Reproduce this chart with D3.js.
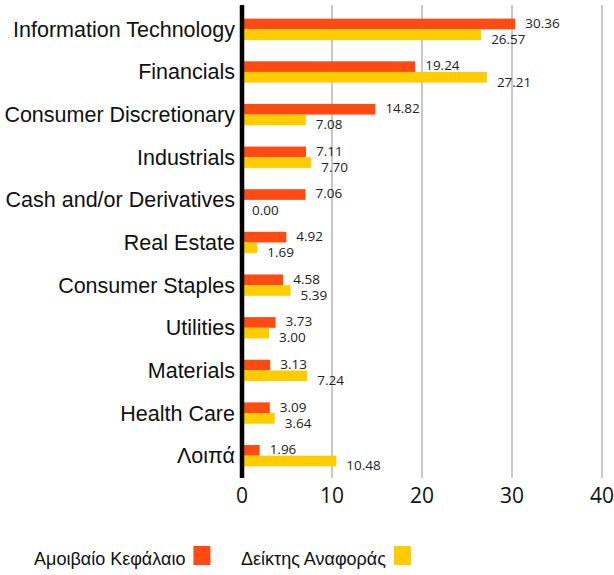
<!DOCTYPE html>
<html>
<head>
<meta charset="utf-8">
<script src="https://cdnjs.cloudflare.com/ajax/libs/d3/7.8.5/d3.min.js"></script>
<style>
  body { margin: 0; background: #fff; }
  .cat { font-family: "Liberation Sans", Arial, sans-serif; font-size: 21.5px; fill: #111; }
  .val { font-family: "Open Sans", sans-serif; font-size: 13.5px; fill: #222; }
  .tick-lbl { font-family: "Open Sans", sans-serif; font-size: 21px; fill: #111; }
  .leg { font-family: "Liberation Sans", Arial, sans-serif; font-size: 18px; fill: #111; }
</style>
</head>
<body>
<div class="chart"></div>
<script>
var categories = ["Information Technology", "Financials", "Consumer Discretionary", "Industrials",
  "Cash and/or Derivatives", "Real Estate", "Consumer Staples", "Utilities", "Materials",
  "Health Care", "Λοιπά"];
var fundValues = [30.36, 19.24, 14.82, 7.11, 7.06, 4.92, 4.58, 3.73, 3.13, 3.09, 1.96];
var indexValues = [26.57, 27.21, 7.08, 7.70, 0.00, 1.69, 5.39, 3.00, 7.24, 3.64, 10.48];
var seriesNames = ["Αμοιβαίο Κεφάλαιο", "Δείκτης Αναφοράς"];
var seriesColors = ["#ff4a14", "#ffcc00"];
var xTicks = [0, 10, 20, 30, 40];

var width = 614, height = 575;

var svg = d3.select(".chart").append("svg")
  .attr("width", width)
  .attr("height", height);

var xScale = d3.scaleLinear().domain([0, 40]).range([242, 602]);
var yScale = d3.scaleBand().domain(categories).range([8, 477])
  .paddingInner(0.5).paddingOuter(0.25);
var subScale = d3.scaleBand().domain(seriesNames).range([0, yScale.bandwidth()]);

var rows = categories.map(function (c, i) {
  return { cat: c, values: [
    { s: seriesNames[0], v: fundValues[i] },
    { s: seriesNames[1], v: indexValues[i] }
  ] };
});

// gridlines
svg.append("g").selectAll("line")
  .data(xTicks.filter(function (t) { return t > 0; }))
  .enter().append("line")
  .attr("x1", function (d) { return xScale(d); })
  .attr("x2", function (d) { return xScale(d); })
  .attr("y1", 5).attr("y2", 478)
  .attr("stroke", "#c8c8c8")
  .attr("stroke-width", 2);

// tick labels
svg.append("g").selectAll("text")
  .data(xTicks)
  .enter().append("text")
  .attr("class", "tick-lbl")
  .attr("x", function (d) { return xScale(d); })
  .attr("y", 503)
  .attr("text-anchor", "middle")
  .text(function (d) { return d; });

// bars
var group = svg.selectAll(".grp")
  .data(rows)
  .enter().append("g")
  .attr("class", "grp")
  .attr("transform", function (d) { return "translate(0," + yScale(d.cat) + ")"; });

group.selectAll("rect")
  .data(function (d) { return d.values; })
  .enter().append("rect")
  .attr("x", xScale(0))
  .attr("y", function (d) { return subScale(d.s); })
  .attr("width", function (d) { return xScale(d.v) - xScale(0); })
  .attr("height", subScale.bandwidth())
  .attr("fill", function (d, i) { return seriesColors[i]; });

group.selectAll("text.val")
  .data(function (d) { return d.values; })
  .enter().append("text")
  .attr("class", "val")
  .attr("x", function (d) { return xScale(d.v) + 10; })
  .attr("y", function (d, i) {
    var top = subScale(d.s), h = subScale.bandwidth();
    return i === 0 ? top + h - 1.5 : top + h + 4;
  })
  .text(function (d) { return d.v.toFixed(2); });

// category labels
svg.append("g").selectAll("text")
  .data(categories)
  .enter().append("text")
  .attr("class", "cat")
  .attr("x", 235)
  .attr("y", function (d) { return yScale(d) + yScale.bandwidth() / 2; })
  .attr("dy", "0.35em")
  .attr("text-anchor", "end")
  .text(function (d) { return d; });

// axis line
svg.append("line")
  .attr("x1", xScale(0)).attr("x2", xScale(0))
  .attr("y1", 5).attr("y2", 478)
  .attr("stroke", "#000")
  .attr("stroke-width", 4.5);

// legend
var legendX = [34, 241];
var legend = svg.selectAll(".legend")
  .data(seriesNames)
  .enter().append("g")
  .attr("class", "legend");

legend.append("text")
  .attr("class", "leg")
  .attr("x", function (d, i) { return legendX[i]; })
  .attr("y", 565)
  .text(function (d) { return d; })
  .each(function (d, i) {
    var w = this.getComputedTextLength();
    d3.select(this.parentNode).append("rect")
      .attr("x", legendX[i] + w + 8)
      .attr("y", 546)
      .attr("width", 17)
      .attr("height", 19)
      .attr("fill", seriesColors[i]);
  });
</script>
</body>
</html>
